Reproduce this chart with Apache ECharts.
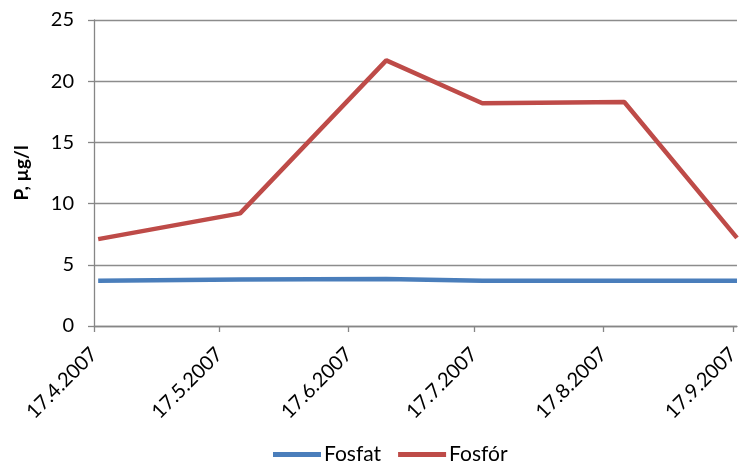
<!DOCTYPE html>
<html>
<head>
<meta charset="utf-8">
<script src="https://cdn.jsdelivr.net/npm/echarts@6/dist/echarts.min.js"></script>
<style>
  html, body { margin: 0; padding: 0; background: #fff; }
  #chart { width: 742px; height: 465px; }
</style>
</head>
<body>
<div id="chart"></div>
<script>
// Sampling dates (d.m.yyyy) and measured phosphorus values, µg/l
const sampleDates = ['18.4.2007', '22.5.2007', '26.6.2007', '19.7.2007', '22.8.2007', '18.9.2007'];
const fosfat = [3.7, 3.8, 3.85, 3.7, 3.7, 3.7];
const fosfor = [7.1, 9.2, 21.7, 18.2, 18.3, 7.2];

// Date axis ticks (monthly) and axis range
const tickDates = ['17.4.2007', '17.5.2007', '17.6.2007', '17.7.2007', '17.8.2007', '17.9.2007'];
const axisStart = '17.4.2007';
const axisEnd = '18.9.2007';

function toTime(s) {
  const [d, m, y] = s.split('.').map(Number);
  return Date.UTC(y, m - 1, d);
}
function fmtDate(t) {
  const dt = new Date(t);
  return dt.getUTCDate() + '.' + (dt.getUTCMonth() + 1) + '.' + dt.getUTCFullYear();
}

const font = 'Lato, "Open Sans", sans-serif';
const tickTimes = tickDates.map(toTime);

const chart = echarts.init(document.getElementById('chart'), null, { renderer: 'canvas' });
chart.setOption({
  animation: false,
  backgroundColor: '#ffffff',
  grid: { left: 94, right: 0, top: 20, bottom: 139, containLabel: false },
  xAxis: {
    type: 'value',
    min: toTime(axisStart),
    max: toTime(axisEnd),
    axisLine: { show: true, lineStyle: { color: '#868686', width: 1.3 } },
    axisTick: { show: true, length: 6, lineStyle: { color: '#868686', width: 1.3 }, customValues: tickTimes },
    splitLine: { show: false },
    axisLabel: {
      customValues: tickTimes,
      formatter: v => fmtDate(v),
      rotate: 45,
      margin: 25,
      fontSize: 20,
      fontFamily: font,
      color: '#000'
    }
  },
  yAxis: {
    type: 'value',
    min: 0,
    max: 25,
    interval: 5,
    name: 'P, µg/l',
    nameLocation: 'middle',
    nameGap: 63,
    nameTextStyle: { fontSize: 19, fontWeight: 'bold', fontFamily: font, color: '#000' },
    axisLine: { show: true, lineStyle: { color: '#868686', width: 1.3 } },
    axisTick: { show: true, length: 6, lineStyle: { color: '#868686', width: 1.3 } },
    splitLine: { show: true, lineStyle: { color: '#8c8c8c', width: 1.3 } },
    axisLabel: { margin: 20, fontSize: 20, fontFamily: font, color: '#000' }
  },
  legend: {
    top: 444,
    left: 273,
    padding: 0,
    icon: 'rect',
    itemWidth: 48,
    itemHeight: 5,
    itemGap: 17,
    textStyle: { fontSize: 21, fontFamily: font, color: '#000', padding: [0, 0, 0, -2] },
    data: ['Fosfat', 'Fosfór']
  },
  series: [
    {
      name: 'Fosfat',
      type: 'line',
      data: sampleDates.map((d, i) => [toTime(d), fosfat[i]]),
      showSymbol: false,
      symbol: 'none',
      color: '#4A7EBB',
      lineStyle: { width: 4.5, color: '#4A7EBB' }
    },
    {
      name: 'Fosfór',
      type: 'line',
      data: sampleDates.map((d, i) => [toTime(d), fosfor[i]]),
      showSymbol: false,
      symbol: 'none',
      color: '#BE4B48',
      lineStyle: { width: 4.5, color: '#BE4B48' }
    }
  ]
});
</script>
</body>
</html>
